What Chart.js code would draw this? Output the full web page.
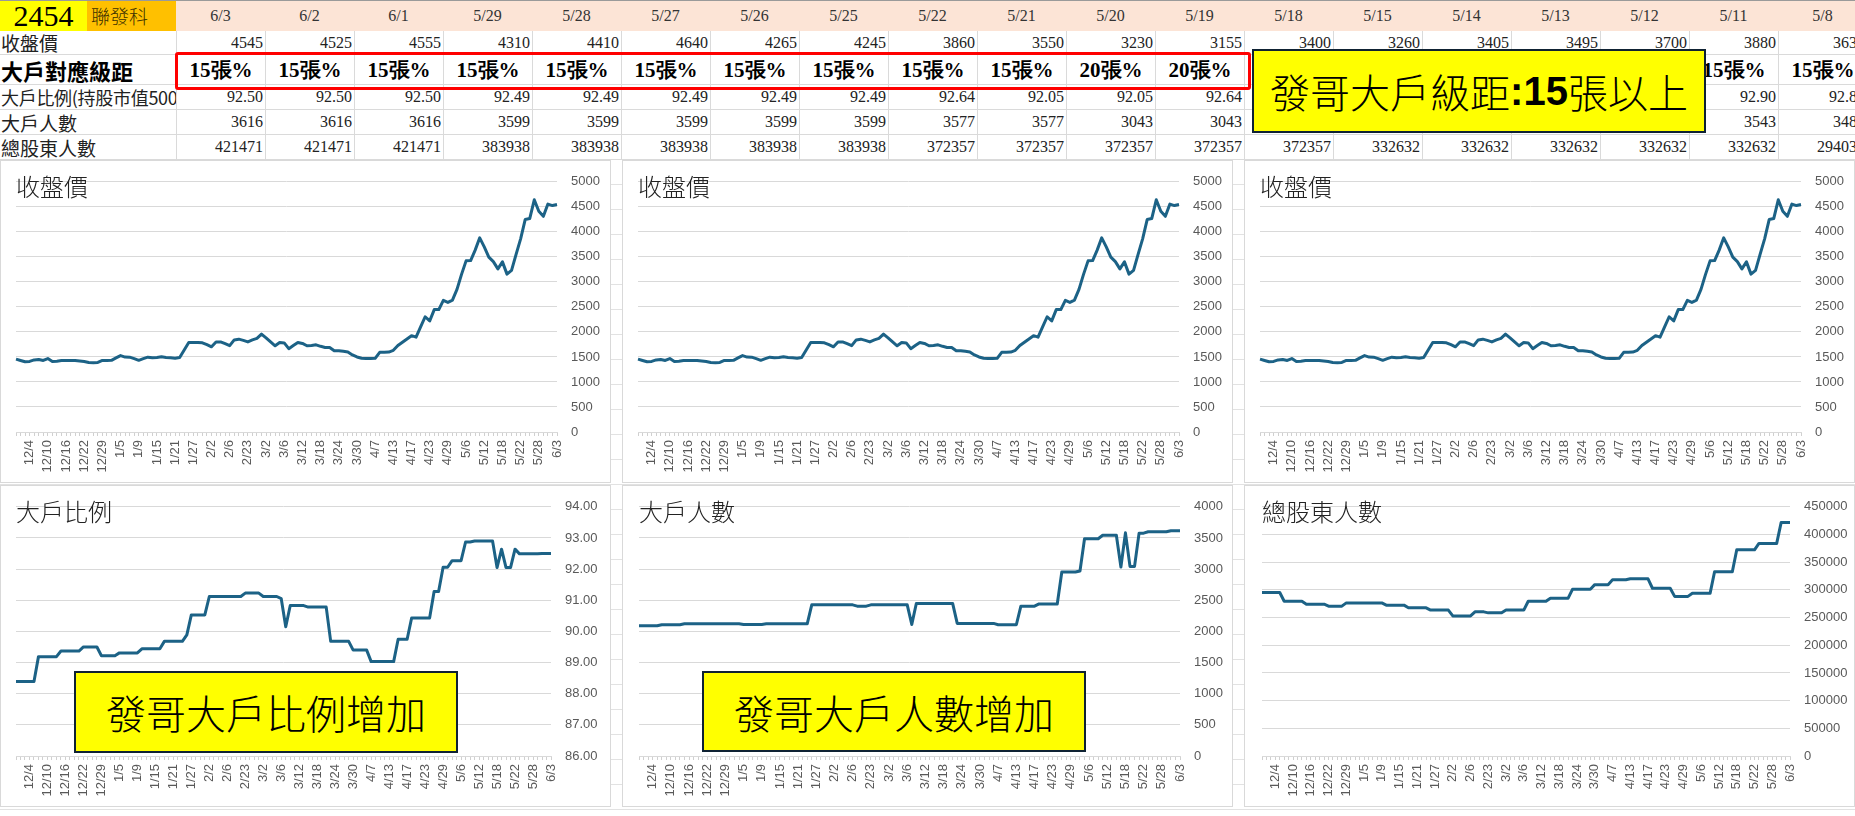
<!DOCTYPE html>
<html>
<head>
<meta charset="utf-8">
<script src="https://cdn.jsdelivr.net/npm/chart.js@4.4.0/dist/chart.umd.min.js"></script>
<style>
html, body { margin: 0; padding: 0; }
body { width: 1855px; height: 816px; overflow: hidden; position: relative; background: #fff;
  font-family: "Noto Sans CJK TC", sans-serif; }
.abs { position: absolute; box-sizing: border-box; white-space: nowrap; overflow: hidden; }
.sheet { left: 0; top: 160px; width: 1855px; height: 656px;
  background: repeating-linear-gradient(to bottom, transparent 0, transparent 24px, #e2e2e2 24px, #e2e2e2 25px); }
.frame { background: #fff; border: 1px solid #d9d9d9; }
.title { font-size: 24px; line-height: 24px; font-weight: 300; color: #222; }
.note { background: #ffff00; border: 2.5px solid #0f2233; display: flex; align-items: center;
  justify-content: center; font-size: 40px; font-weight: 300; color: #000; }
.num { font-family: "Liberation Serif", serif; font-size: 16px; color: #222; text-align: right;
  padding-right: 2px; display: flex; align-items: center; justify-content: flex-end; }
.lab { font-size: 19px; color: #222; display: flex; align-items: center; padding-left: 1px; }
canvas { position: absolute; }
</style>
</head>
<body>
<div class="abs sheet"></div>
<script>
// trading days 12/1 .. 6/3
const dates = [
  '12/1','12/2','12/3','12/4','12/5','12/8','12/9','12/10','12/11','12/12','12/15','12/16','12/17','12/18','12/19',
  '12/22','12/23','12/24','12/26','12/29','12/30','12/31',
  '1/2','1/5','1/6','1/7','1/8','1/9','1/12','1/13','1/14','1/15','1/16','1/19','1/20','1/21','1/22','1/23',
  '1/26','1/27','1/28','1/29','1/30',
  '2/2','2/3','2/4','2/5','2/6','2/9','2/10','2/11','2/23','2/24','2/25','2/26',
  '3/2','3/3','3/4','3/5','3/6','3/9','3/10','3/11','3/12','3/13','3/16','3/17','3/18','3/19','3/20',
  '3/23','3/24','3/25','3/26','3/27','3/30','3/31',
  '4/1','4/2','4/7','4/8','4/9','4/10','4/13','4/14','4/15','4/16','4/17','4/20','4/21','4/22','4/23','4/24',
  '4/27','4/28','4/29','4/30',
  '5/4','5/5','5/6','5/7','5/8','5/11','5/12','5/13','5/14','5/15','5/18','5/19','5/20','5/21','5/22',
  '5/25','5/26','5/27','5/28','5/29',
  '6/1','6/2','6/3'
];

const closePrice = [
  1456, 1430, 1405, 1410, 1440, 1450, 1430, 1468, 1408, 1415,
  1428, 1430, 1430, 1430, 1420, 1408, 1388, 1385, 1390, 1430,
  1430, 1432, 1480, 1527, 1497, 1495, 1465, 1432, 1465, 1495,
  1485, 1490, 1502, 1490, 1482, 1472, 1490, 1640, 1788, 1790,
  1788, 1782, 1745, 1703, 1800, 1801, 1765, 1725, 1840, 1855,
  1830, 1801, 1840, 1870, 1955, 1880, 1800, 1723, 1788, 1780,
  1665, 1728, 1790, 1770, 1723, 1730, 1742, 1712, 1690, 1690,
  1625, 1625, 1612, 1598, 1540, 1500, 1475, 1470, 1470, 1472,
  1593, 1593, 1598, 1632, 1728, 1795, 1860, 1925, 1895, 2100,
  2303, 2220, 2446, 2446, 2630, 2590, 2635, 2850, 3150, 3420,
  3425, 3635, 3880, 3700, 3495, 3405, 3260, 3400, 3155, 3230,
  3550, 3860, 4245, 4265, 4640, 4410, 4310, 4555, 4525, 4545
];

const bigRatio = [
  88.39, 88.39, 88.39, 88.39, 88.39, 89.19, 89.19, 89.19, 89.19, 89.19,
  89.37, 89.37, 89.37, 89.37, 89.37, 89.50, 89.50, 89.50, 89.50, 89.22,
  89.22, 89.22, 89.22, 89.31, 89.31, 89.31, 89.31, 89.31, 89.44, 89.44,
  89.44, 89.44, 89.44, 89.68, 89.68, 89.68, 89.68, 89.68, 89.89, 90.53,
  90.53, 90.53, 90.53, 91.12, 91.12, 91.12, 91.12, 91.12, 91.12, 91.12,
  91.12, 91.23, 91.23, 91.23, 91.23, 91.12, 91.12, 91.12, 91.12, 91.05,
  90.15, 90.83, 90.83, 90.83, 90.83, 90.78, 90.78, 90.78, 90.78, 90.78,
  89.68, 89.68, 89.68, 89.68, 89.68, 89.40, 89.40, 89.40, 89.40, 89.03,
  89.03, 89.03, 89.03, 89.03, 89.03, 89.75, 89.75, 89.75, 90.43, 90.43,
  90.43, 90.43, 90.43, 91.28, 91.28, 92.06, 92.06, 92.27, 92.27, 92.27,
  92.87, 92.87, 92.90, 92.90, 92.90, 92.90, 92.90, 92.05, 92.64, 92.05,
  92.05, 92.64, 92.49, 92.49, 92.49, 92.49, 92.49, 92.50, 92.50, 92.50
];

const bigCount = [
  2091, 2091, 2091, 2091, 2091, 2107, 2107, 2107, 2107, 2107,
  2122, 2122, 2122, 2122, 2122, 2122, 2122, 2122, 2122, 2122,
  2122, 2122, 2122, 2112, 2112, 2112, 2112, 2112, 2122, 2122,
  2122, 2122, 2122, 2122, 2122, 2122, 2122, 2122, 2426, 2426,
  2426, 2426, 2426, 2426, 2426, 2426, 2426, 2426, 2405, 2405,
  2405, 2426, 2426, 2426, 2426, 2426, 2426, 2426, 2426, 2426,
  2112, 2447, 2447, 2447, 2447, 2447, 2447, 2447, 2447, 2447,
  2128, 2128, 2128, 2128, 2128, 2128, 2128, 2128, 2128, 2107,
  2107, 2107, 2107, 2107, 2405, 2405, 2405, 2405, 2441, 2441,
  2441, 2441, 2441, 2954, 2954, 2954, 2954, 2970, 3488, 3488,
  3488, 3488, 3543, 3543, 3543, 3543, 3033, 3582, 3043, 3043,
  3577, 3577, 3599, 3599, 3599, 3599, 3599, 3616, 3616, 3616
];

const holders = [
  295300, 295300, 295300, 295300, 295300, 279400, 279400, 279400, 279400, 279400,
  274100, 274100, 274100, 274100, 274100, 270600, 270600, 270600, 270600, 276500,
  276500, 276500, 276500, 276500, 276500, 276500, 276500, 276500, 272400, 272400,
  272400, 272400, 272400, 267600, 267600, 267600, 267600, 267600, 263500, 263500,
  263500, 263500, 263500, 252900, 252900, 252900, 252900, 252900, 260300, 260300,
  260300, 258500, 258500, 258500, 258500, 263500, 263500, 263500, 263500, 263500,
  279400, 279400, 279400, 279400, 279400, 285000, 285000, 285000, 285000, 285000,
  301200, 301200, 301200, 301200, 301200, 309400, 309400, 309400, 309400, 318200,
  318200, 318200, 318200, 320000, 320000, 320000, 320000, 320000, 302900, 302900,
  302900, 302900, 302900, 288200, 288200, 288200, 288200, 294030, 294030, 294030,
  294030, 294030, 332632, 332632, 332632, 332632, 332632, 372357, 372357, 372357,
  372357, 372357, 383938, 383938, 383938, 383938, 383938, 421471, 421471, 421471
];

// 大戶對應級距, newest column first (6/3 ... 5/8)
const levelLabels = ['15張%','15張%','15張%','15張%','15張%','15張%','15張%','15張%','15張%','15張%',
  '20張%','20張%','15張%','15張%','15張%','15張%','15張%','15張%','15張%'];
const rowNames = ['收盤價', '大戶對應級距', '大戶比例(持股市值500', '大戶人數', '總股東人數'];
const priceAxis = [0, 5000, 500];
const ratioAxis = [86, 94, 1];
const countAxis = [0, 4000, 500];
const holderAxis = [0, 450000, 50000];

function box(cls, x, y, w, h, html, css) {
  const d = document.createElement('div');
  d.className = 'abs ' + cls;
  d.style.left = x + 'px'; d.style.top = y + 'px';
  d.style.width = w + 'px'; d.style.height = h + 'px';
  if (css) d.style.cssText += css;
  if (html !== undefined) d.innerHTML = html;
  document.body.appendChild(d);
  return d;
}

// ---- top table ----
const rowY = [0, 31, 55, 85, 110, 135, 160];
const colX = 176, colW = 89, nCols = 19;
box('', 0, 0, 1855, 1, '', 'background:#9a9a9a');
box('', 0, 1, 87, 30, '2454', 'background:#ffff00;font-family:"Liberation Serif",serif;font-size:30px;line-height:30px;text-align:center;color:#000');
box('', 87, 1, 89, 30, '聯發科', 'background:#ffc000;font-size:19px;line-height:30px;padding-left:4px;color:#3d3100;font-weight:300');
for (let k = 0; k < nCols; k++) {
  const i = dates.length - 1 - k;
  box('', colX + k * colW, 1, colW, 30, dates[i],
    'background:#fce4d6;font-family:"Liberation Serif",serif;font-size:16px;line-height:30px;text-align:center;color:#333');
}
for (let r = 0; r < 5; r++) {
  const y = rowY[r + 1], h = rowY[r + 2] - y;
  const lab = box('lab', 0, y, 176, h, rowNames[r], 'border-bottom:1px solid #dadada');
  if (r === 1) { lab.style.fontSize = '22px'; lab.style.fontWeight = '700'; lab.style.color = '#000'; }
  if (r === 2) { lab.style.fontSize = '18px'; lab.style.letterSpacing = '-0.3px'; }
  for (let k = 0; k < nCols; k++) {
    const i = dates.length - 1 - k;
    let txt;
    if (r === 0) txt = closePrice[i];
    else if (r === 1) txt = levelLabels[k];
    else if (r === 2) txt = bigRatio[i].toFixed(2);
    else if (r === 3) txt = bigCount[i];
    else txt = holders[i];
    const c = box('num', colX + k * colW, y, colW, h, txt,
      'border-left:1px solid #dadada;border-bottom:1px solid #dadada');
    if (r === 1) {
      c.style.justifyContent = 'center'; c.style.fontWeight = '700'; c.style.fontSize = '21px';
      c.style.color = '#000'; c.style.paddingRight = '0';
    }
  }
}
// highlight boxes
box('', 175, 52, 1076, 38, '', 'border:3px solid #ff0000;border-radius:3px');
box('note', 1252, 49, 454, 84,
  '發哥大戶級距<span style="font-family:\'Liberation Sans\',sans-serif;font-weight:700">:15</span>張以上');

// ---- charts ----
const lineColor = '#1c6286';
const tickFont = { family: '"Liberation Sans", Arial, sans-serif', size: 13 };

function makeChart(x, y, w, h, padL, plotR, values, axis, fmt, title) {
  box('frame', x, y, w, h);
  const cv = document.createElement('canvas');
  cv.width = w; cv.height = h;
  cv.style.left = x + 'px'; cv.style.top = y + 'px';
  document.body.appendChild(cv);
  new Chart(cv.getContext('2d'), {
    type: 'line',
    data: {
      labels: dates,
      datasets: [{
        data: values,
        borderColor: lineColor,
        borderWidth: 3,
        pointRadius: 0,
        tension: 0,
        fill: false,
        borderJoinStyle: 'round'
      }]
    },
    options: {
      responsive: false,
      animation: false,
      devicePixelRatio: 1,
      layout: { padding: { left: padL, top: 16, right: 0, bottom: 0 } },
      plugins: { legend: { display: false }, tooltip: { enabled: false } },
      scales: {
        x: {
          grid: { drawOnChartArea: false, drawTicks: true, tickLength: 4, color: '#d0d0d0' },
          border: { display: true, color: '#d9d9d9' },
          ticks: {
            autoSkip: false, minRotation: 90, maxRotation: 90, padding: 4,
            color: '#595959', font: tickFont,
            callback: function (v, i) { return i % 4 === 3 ? dates[i] : ''; }
          },
          afterFit: function (s) { s.height = 51; }
        },
        y: {
          position: 'right',
          min: axis[0], max: axis[1],
          grid: { color: '#d9d9d9', drawTicks: false },
          border: { display: false },
          ticks: { stepSize: axis[2], padding: 14, color: '#595959', font: tickFont, callback: fmt },
          afterFit: function (s) { s.width = w - plotR; }
        }
      }
    }
  });
  box('title', x + padL, y + 14, 200, 26, title);
}

const plain = function (v) { return String(v); };
makeChart(0, 160, 611, 323, 16, 557, closePrice, priceAxis, plain, '收盤價');
makeChart(622, 160, 611, 323, 16, 557, closePrice, priceAxis, plain, '收盤價');
makeChart(1244, 160, 611, 323, 16, 557, closePrice, priceAxis, plain, '收盤價');
makeChart(0, 485, 611, 322, 16, 551, bigRatio, ratioAxis, function (v) { return v.toFixed(2); }, '大戶比例');
makeChart(622, 485, 611, 322, 17, 558, bigCount, countAxis, plain, '大戶人數');
makeChart(1244, 485, 611, 322, 18, 546, holders, holderAxis, plain, '總股東人數');

box('note', 74, 671, 384, 82, '發哥大戶比例增加');
box('note', 702, 671, 384, 81, '發哥大戶人數增加');
</script>
</body>
</html>
